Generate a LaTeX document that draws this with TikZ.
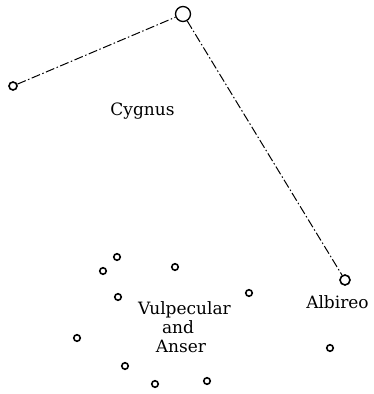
\documentclass[tikz,border=0pt]{standalone}
\usepackage{fontspec}
\setmainfont{DejaVu Serif}
\begin{document}
\begin{tikzpicture}[x=1pt,y=-1pt,
  star/.style={circle,draw,line width=1.6pt,fill=white,inner sep=0pt},
  big/.style={star,minimum size=15pt,line width=1.3pt},
  mid/.style={star,minimum size=10pt},
  lft/.style={star,minimum size=8pt},
  small/.style={star,minimum size=6.5pt},
  lbl/.style={inner sep=0pt,anchor=base,font=\fontsize{17}{20}\selectfont},
  link/.style={line width=1pt,dash pattern=on 9pt off 2.5pt on 1.5pt off 2.5pt}]
\useasboundingbox (0,0) rectangle (373,394);
\node[big] (top) at (183,14) {};
\node[lft] (left) at (13,86) {};
\node[mid] (alb) at (345,280) {};
\draw[link] (left) -- (top);
\draw[link] (top) -- (alb);
\node[lbl] (cyg) at (142.5,115) {Cygnus};
\node[lbl] (albl) at (337.5,308) {Albireo};
\node[lbl] (vul) at (184.5,314) {Vulpecular};
\node[lbl] (and) at (178,333) {and};
\node[lbl] (ans) at (181,352) {Anser};
\node[small] (s0) at (330,348) {};
\node[small] (s1) at (117,257) {};
\node[small] (s2) at (103,271) {};
\node[small] (s3) at (175,267) {};
\node[small] (s4) at (118,297) {};
\node[small] (s5) at (249,293) {};
\node[small] (s6) at (77,338) {};
\node[small] (s7) at (125,366) {};
\node[small] (s8) at (155,384) {};
\node[small] (s9) at (207,381) {};
\end{tikzpicture}
\end{document}
